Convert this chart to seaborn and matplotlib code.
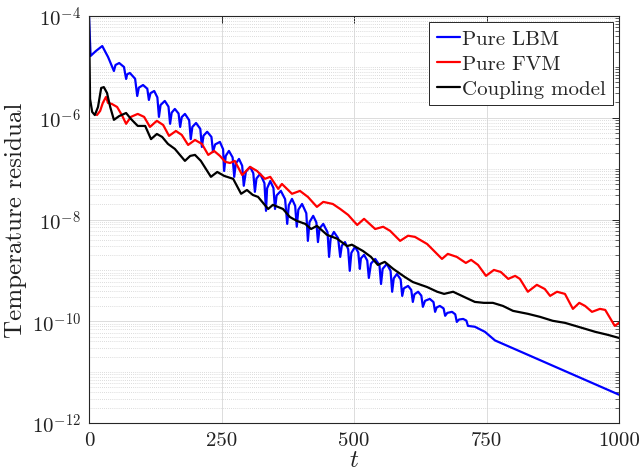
import numpy as np
import pandas as pd
import matplotlib
matplotlib.use("Agg")
import matplotlib.pyplot as plt
import seaborn as sns
from matplotlib.ticker import LogLocator, FixedLocator, FixedFormatter, NullFormatter

# ---------------- data ----------------
lbm_t = [0, 3, 13, 25, 36, 47, 50, 57, 66, 70, 72, 77, 87, 91, 94, 102, 110, 113, 116, 123,
         129, 132, 135, 143, 150, 153, 156, 162, 169, 172, 175, 181, 189, 192, 195, 202, 210,
         213, 216, 223, 231, 234, 238, 247, 253, 255, 258, 264, 271, 274, 277, 283, 289, 292,
         296, 304, 310, 313, 316, 323, 331, 334, 336, 342, 348, 351, 354, 362, 370, 374, 377,
         383, 389, 392, 395, 402, 410, 413, 416, 423, 429, 432, 435, 442, 450, 453, 456, 462,
         470, 474, 477, 483, 489, 492, 495, 502, 508, 511, 513, 519, 525, 528, 532, 540, 548,
         551, 554, 562, 569, 572, 575, 581, 588, 591, 594, 602, 608, 611, 614, 621, 627, 630,
         634, 643, 650, 653, 656, 662, 669, 672, 676, 685, 691, 694, 698, 706, 712, 715, 728,
         747, 766, 1000]
lbm_v = [1.0e-4, 1.64e-5, 2.05e-5, 2.57e-5, 1.56e-5, 8.3e-6, 1.09e-5, 1.19e-5, 9.95e-6, 5.8e-6,
         7.1e-6, 7.6e-6, 5.85e-6, 2.68e-6, 3.9e-6, 4.4e-6, 3.72e-6, 2.24e-6, 3.04e-6, 3.36e-6,
         2.51e-6, 1.04e-6, 1.78e-6, 2.14e-6, 1.65e-6, 7.6e-7, 1.26e-6, 1.49e-6, 1.21e-6, 6.6e-7,
         1.03e-6, 1.19e-6, 8.95e-7, 3.8e-7, 6.6e-7, 7.9e-7, 6.03e-7, 2.67e-7, 4.44e-7, 5.3e-7,
         4.2e-7, 2.13e-7, 2.99e-7, 3.35e-7, 2.41e-7, 9.0e-8, 1.78e-7, 2.23e-7, 1.66e-7, 6.9e-8,
         1.26e-7, 1.55e-7, 1.14e-7, 4.6e-8, 8.7e-8, 1.08e-7, 8.13e-8, 3.5e-8, 6.41e-8, 7.9e-8,
         5.18e-8, 1.48e-8, 4.08e-8, 5.7e-8, 4.17e-8, 1.61e-8, 2.97e-8, 3.65e-8, 2.51e-8, 8.2e-9,
         1.91e-8, 2.54e-8, 1.85e-8, 7.2e-9, 1.56e-8, 2.02e-8, 1.33e-8, 3.8e-9, 8.87e-9, 1.18e-8,
         8.77e-9, 3.6e-9, 6.68e-9, 8.2e-9, 5.65e-9, 1.84e-9, 4.3e-9, 5.7e-9, 4.3e-9, 1.84e-9,
         3.06e-9, 3.6e-9, 2.61e-9, 9.8e-10, 2.21e-9, 2.9e-9, 2.26e-9, 1.07e-9, 1.72e-9, 2.02e-9,
         1.56e-9, 7.1e-10, 1.36e-9, 1.68e-9, 1.27e-9, 5.4e-10, 1.07e-9, 1.34e-9, 9.77e-10,
         3.8e-10, 6.97e-10, 8.5e-10, 6.65e-10, 3.15e-10, 4.43e-10, 4.95e-10, 4.13e-10, 2.4e-10,
         3.38e-10, 3.8e-10, 3.19e-10, 1.92e-10, 2.52e-10, 2.75e-10, 2.38e-10, 1.53e-10,
         1.87e-10, 2.0e-10, 1.79e-10, 1.28e-10, 1.46e-10, 1.53e-10, 1.37e-10, 9.7e-11, 1.08e-10,
         1.11e-10, 1.03e-10, 8.1e-11, 7.8e-11, 6.2e-11, 4.2e-11, 3.6e-12]

fvm_t = [15, 21, 26, 32, 36, 43, 53, 62, 70, 79, 92, 104, 115, 128, 140, 151, 164, 175, 187,
         200, 213, 225, 236, 247, 257, 266, 275, 289, 304, 317, 332, 342, 357, 364, 383, 398,
         413, 430, 442, 460, 474, 489, 506, 519, 540, 555, 568, 587, 602, 615, 638, 666, 677,
         694, 711, 721, 734, 749, 764, 777, 791, 804, 813, 828, 845, 860, 870, 883, 898, 913,
         925, 936, 949, 964, 974, 992, 1000]
fvm_v = [1.13e-6, 1.36e-6, 1.95e-6, 2.56e-6, 1.95e-6, 1.87e-6, 1.63e-6, 1.13e-6, 7.6e-7,
         1.04e-6, 1.19e-6, 1.04e-6, 6.6e-7, 8.7e-7, 7.2e-7, 4.4e-7, 5.5e-7, 4.6e-7, 2.92e-7,
         3.66e-7, 3.06e-7, 1.86e-7, 2.23e-7, 1.78e-7, 1.36e-7, 1.29e-7, 1.42e-7, 7.5e-8,
         1.08e-7, 9.0e-8, 6.3e-8, 6.9e-8, 4.0e-8, 5.0e-8, 3.2e-8, 3.65e-8, 2.78e-8, 1.77e-8,
         2.22e-8, 2.02e-8, 1.61e-8, 1.23e-8, 7.8e-9, 1.03e-8, 6.5e-9, 7.2e-9, 6.0e-9, 3.8e-9,
         4.8e-9, 4.55e-9, 3.3e-9, 1.68e-9, 2.11e-9, 1.84e-9, 1.4e-9, 1.61e-9, 1.28e-9, 7.8e-10,
         1.02e-9, 9.3e-10, 6.8e-10, 7.8e-10, 6.8e-10, 3.8e-10, 5.2e-10, 4.3e-10, 3.15e-10,
         3.8e-10, 3.45e-10, 1.75e-10, 2.3e-10, 2.0e-10, 1.53e-10, 1.75e-10, 1.67e-10, 8.1e-11,
         9.3e-11]

cpl_t = [0, 2, 6, 11, 17, 23, 28, 34, 40, 47, 57, 70, 79, 92, 106, 117, 128, 138, 149, 162,
         181, 191, 200, 211, 230, 242, 255, 272, 287, 298, 309, 319, 338, 347, 366, 379, 392,
         408, 419, 430, 449, 468, 487, 496, 517, 532, 545, 558, 574, 596, 611, 638, 657, 670,
         687, 711, 728, 745, 762, 781, 800, 828, 851, 875, 898, 923, 955, 979, 1000]
cpl_v = [1.0e-4, 2.34e-6, 1.3e-6, 1.13e-6, 1.63e-6, 3.85e-6, 4.0e-6, 3.07e-6, 1.63e-6, 9.1e-7,
         1.08e-6, 1.24e-6, 9.5e-7, 6.9e-7, 6.9e-7, 3.8e-7, 4.8e-7, 4.2e-7, 3.06e-7, 2.44e-7,
         1.42e-7, 1.78e-7, 1.86e-7, 1.42e-7, 6.9e-8, 8.6e-8, 7.2e-8, 6.3e-8, 3.2e-8, 3.8e-8,
         3.04e-8, 2.78e-8, 1.61e-8, 1.94e-8, 1.61e-8, 1.12e-8, 9.4e-9, 8.2e-9, 6.5e-9, 7.5e-9,
         5.0e-9, 4.2e-9, 3.0e-9, 3.2e-9, 2.4e-9, 1.84e-9, 1.28e-9, 1.47e-9, 1.07e-9, 7.4e-10,
         5.9e-10, 4.7e-10, 3.8e-10, 3.45e-10, 3.8e-10, 2.9e-10, 2.4e-10, 2.3e-10, 2.3e-10,
         2.0e-10, 1.6e-10, 1.4e-10, 1.22e-10, 1.02e-10, 9.3e-11, 7.8e-11, 6.2e-11, 5.4e-11,
         4.7e-11]

series_names = ["Pure LBM", "Pure FVM", "Coupling model"]
series_colors = ["#0000ff", "#ff0000", "#000000"]
x_ticks = [0, 250, 500, 750, 1000]
y_ticks = [1e-12, 1e-10, 1e-8, 1e-6, 1e-4]
y_tick_labels = [r"$10^{-12}$", r"$10^{-10}$", r"$10^{-8}$", r"$10^{-6}$", r"$10^{-4}$"]
x_label = r"$t$"
y_label = "Temperature residual"

# ---------------- style ----------------
sns.set_theme(style="white")
plt.rcParams["font.family"] = ["cmr10", "DejaVu Serif"]
plt.rcParams["mathtext.fontset"] = "cm"
plt.rcParams["axes.formatter.use_mathtext"] = True
plt.rcParams["lines.solid_joinstyle"] = "round"

df = pd.concat([
    pd.DataFrame({"t": lbm_t, "v": lbm_v, "series": series_names[0]}),
    pd.DataFrame({"t": fvm_t, "v": fvm_v, "series": series_names[1]}),
    pd.DataFrame({"t": cpl_t, "v": cpl_v, "series": series_names[2]}),
], ignore_index=True)

fig = plt.figure(figsize=(6.44, 4.77), dpi=100)
ax = fig.add_axes([89 / 644, 53 / 477, 530 / 644, 407 / 477])

sns.lineplot(data=df, x="t", y="v", hue="series", hue_order=series_names,
             palette=dict(zip(series_names, series_colors)), estimator=None,
             sort=False, lw=1.6, ax=ax)

ax.set_yscale("log")
ax.set_xlim(0, 1000)
ax.set_ylim(1e-12, 1e-4)

ax.xaxis.set_major_locator(FixedLocator(x_ticks))
ax.set_xticklabels([str(v) for v in x_ticks])
ax.yaxis.set_major_locator(FixedLocator(y_ticks))
ax.yaxis.set_major_formatter(FixedFormatter(y_tick_labels))
ax.yaxis.set_minor_locator(LogLocator(base=10, subs=np.arange(1, 10), numticks=100))
ax.yaxis.set_minor_formatter(NullFormatter())

ax.grid(which="major", color="#dcdcdc", lw=0.7, ls="-")
ax.grid(which="minor", axis="y", color="#d0d0d0", lw=0.6, ls=(0, (1, 1.5)))
ax.set_axisbelow(True)

for s in ax.spines.values():
    s.set_color("#262626")
    s.set_linewidth(0.8)
ax.tick_params(which="both", direction="in", top=True, right=True, color="#262626")
ax.tick_params(which="major", length=5, width=0.7, labelsize=15, labelcolor="#222222", pad=6)
ax.tick_params(which="minor", length=3, width=0.5)

ax.set_xlabel(x_label, fontsize=18, color="#222222", labelpad=0)
ax.set_ylabel(y_label, fontsize=18, color="#222222", labelpad=3)

leg = ax.legend(loc="upper right", fontsize=15, frameon=True, fancybox=False,
                edgecolor="#262626", framealpha=1, handlelength=1.1, handletextpad=0.1,
                borderpad=0.35, labelspacing=0.3, borderaxespad=0.3)
leg.get_frame().set_linewidth(0.7)
for line in leg.get_lines():
    line.set_linewidth(1.6)

fig.savefig("out.png", dpi=100)
